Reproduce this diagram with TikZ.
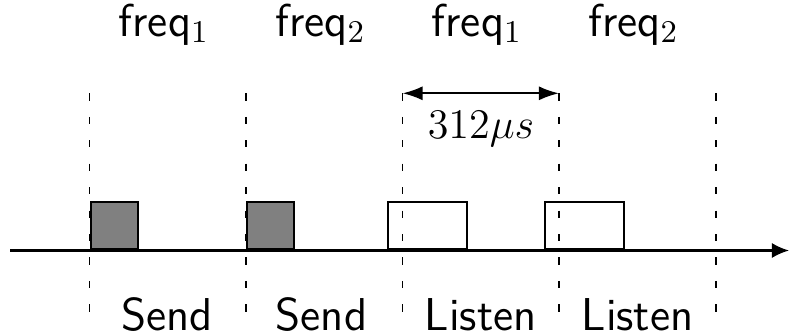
\documentclass[tikz,border=0pt]{standalone}
\usetikzlibrary{arrows.meta}
\begin{document}
\begin{tikzpicture}[x=0.01cm,y=-0.01cm,
  lbl/.style={font=\fontsize{13.1}{15}\selectfont\sffamily,inner sep=0pt,anchor=base},
  sendbox/.style={draw,line width=0.6pt,fill=gray,inner sep=0pt,minimum width=0.47cm,minimum height=0.475cm,anchor=south west},
  listenbox/.style={draw,line width=0.6pt,fill=white,inner sep=0pt,minimum width=0.79cm,minimum height=0.475cm,anchor=south west},
  slot/.style={line width=0.5pt,dash pattern=on 2.07pt off 4.6pt},
  axis/.style={line width=0.6pt,-{Latex[length=0.17cm,width=0.15cm]}},
  span/.style={line width=0.6pt,{Latex[length=0.2cm,width=0.14cm]}-{Latex[length=0.2cm,width=0.14cm]}}]
\useasboundingbox (0,0) rectangle (790,336);
% axis
\coordinate (axL) at (10,250.5);
\coordinate (axR) at (789,250.5);
% boxes
\node[sendbox] (b1) at (89.5,250.5) {};
\node[sendbox] (b2) at (246,250.5) {};
\node[listenbox] (b3) at (387,250.5) {};
\node[listenbox] (b4) at (543.5,250.5) {};
\draw[axis] (axL) -- (axR);
% slot borders
\foreach \i/\x in {1/89.5,2/246,3/402.5,4/559,5/716}{
  \coordinate (t\i) at (\x,93.3);
  \coordinate (u\i) at (\x,313);
  \draw[slot] (t\i) -- (u\i);
}
% duration arrow
\draw[span] (t3) -- (t4);
\node[lbl,font=\fontsize{13.1}{15}\selectfont] (dur) at (481,138.3) {$312\mu s$};
% frequency labels
\node[lbl] (f1) at (164,36) {freq$_1$};
\node[lbl] (f2) at (320.5,36) {freq$_2$};
\node[lbl] (f3) at (477,36) {freq$_1$};
\node[lbl] (f4) at (633.5,36) {freq$_2$};
% activity labels
\node[lbl] (s1) at (166.7,330) {Send};
\node[lbl] (s2) at (321.5,330) {Send};
\node[lbl] (l1) at (480.8,330) {Listen};
\node[lbl] (l2) at (637.5,330) {Listen};
\end{tikzpicture}
\end{document}
